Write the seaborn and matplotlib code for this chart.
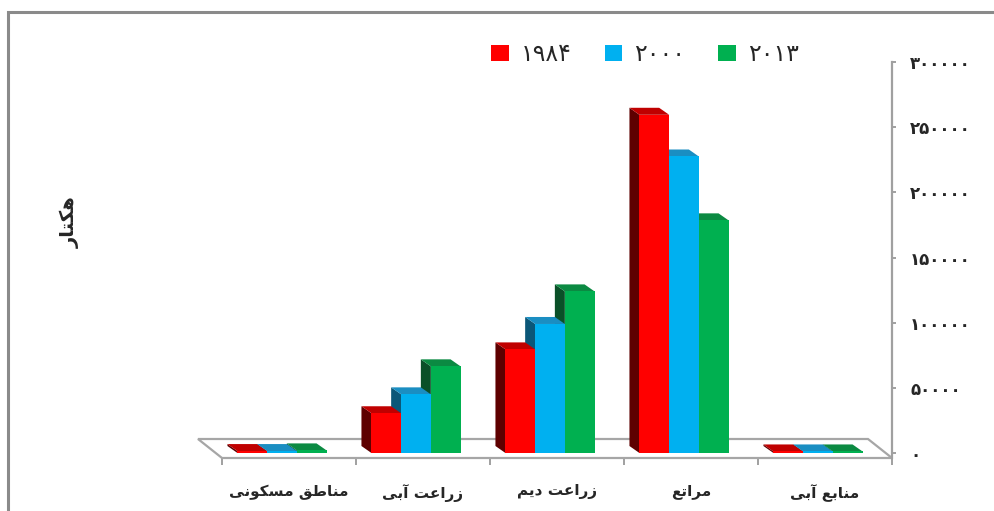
import matplotlib
matplotlib.use("Agg")
import matplotlib.pyplot as plt
import matplotlib.colors as mcolors
from matplotlib.patches import Polygon, Patch, Rectangle
import numpy as np
import pandas as pd
import seaborn as sns

# ---- data -------------------------------------------------------------
categories = ["مناطق مسکونی", "زراعت آبی", "زراعت دیم", "مراتع", "منابع آبی"]
years = ["1984", "2000", "2013"]
values_1984 = [1500, 30500, 79500, 259500, 1200]
values_2000 = [1500, 45000, 99000, 227500, 1200]
values_2013 = [2000, 66500, 124000, 178500, 1200]
y_ticks = [0, 50000, 100000, 150000, 200000, 250000, 300000]
y_label = "هکتار"

front_colors = {"1984": "#FF0000", "2000": "#00B0F0", "2013": "#00B050"}
side_colors = {"1984": "#5E0000", "2000": "#0B5778", "2013": "#0A5028"}
top_colors = {"1984": "#C00000", "2000": "#1A8EC2", "2013": "#0B8A42"}

# ---- minimal Persian shaping (presentation forms + visual order) -------
_FORMS = {  # isolated, final, initial, medial
    "ا": ("\uFE8D", "\uFE8E", None, None),
    "آ": ("\uFE81", "\uFE82", None, None),
    "ب": ("\uFE8F", "\uFE90", "\uFE91", "\uFE92"),
    "ت": ("\uFE95", "\uFE96", "\uFE97", "\uFE98"),
    "د": ("\uFEA9", "\uFEAA", None, None),
    "ر": ("\uFEAD", "\uFEAE", None, None),
    "ز": ("\uFEAF", "\uFEB0", None, None),
    "س": ("\uFEB1", "\uFEB2", "\uFEB3", "\uFEB4"),
    "ط": ("\uFEC1", "\uFEC2", "\uFEC3", "\uFEC4"),
    "ع": ("\uFEC9", "\uFECA", "\uFECB", "\uFECC"),
    "ق": ("\uFED5", "\uFED6", "\uFED7", "\uFED8"),
    "ک": ("\uFB8E", "\uFB8F", "\uFB90", "\uFB91"),
    "ل": ("\uFEDD", "\uFEDE", "\uFEDF", "\uFEE0"),
    "م": ("\uFEE1", "\uFEE2", "\uFEE3", "\uFEE4"),
    "ن": ("\uFEE5", "\uFEE6", "\uFEE7", "\uFEE8"),
    "ه": ("\uFEE9", "\uFEEA", "\uFEEB", "\uFEEC"),
    "و": ("\uFEED", "\uFEEE", None, None),
    "ی": ("\uFBFC", "\uFBFD", "\uFBFE", "\uFBFF"),
}


def shape(text):
    out = []
    for i, ch in enumerate(text):
        f = _FORMS.get(ch)
        if f is None:
            out.append(ch)
            continue
        prev = text[i - 1] if i > 0 else None
        nxt = text[i + 1] if i + 1 < len(text) else None
        join_prev = prev in _FORMS and _FORMS[prev][2] is not None
        join_next = nxt in _FORMS and f[2] is not None
        if join_prev and join_next:
            out.append(f[3])
        elif join_prev:
            out.append(f[1])
        elif join_next:
            out.append(f[2])
        else:
            out.append(f[0])
    return "".join(reversed(out))


def fa_digits(s):
    return str(s).translate(str.maketrans("0123456789", "۰۱۲۳۴۵۶۷۸۹"))


# ---- figure -----------------------------------------------------------
sns.set_theme(style="white")
plt.rcParams["font.family"] = ["DejaVu Sans"]

W, H = 995, 511
fig = plt.figure(figsize=(W / 100, H / 100), dpi=100)
fig.patch.set_facecolor("white")

# outer frame
fig.add_artist(Rectangle((8 / W, -0.05), 1.05, 1 - 12 / H + 0.05,
                         transform=fig.transFigure, fill=False,
                         edgecolor="#8A8A8A", linewidth=2.2, zorder=0))

ax_left, ax_right, ax_top, ax_bottom = 222, 892, 62, 458
ax = fig.add_axes([ax_left / W, (H - ax_bottom) / H,
                   (ax_right - ax_left) / W, (ax_bottom - ax_top) / H])
ax.patch.set_alpha(0)

df = pd.DataFrame({
    "category": categories * 3,
    "year": [years[0]] * 5 + [years[1]] * 5 + [years[2]] * 5,
    "value": values_1984 + values_2000 + values_2013,
})

sns.barplot(data=df, x="category", y="value", hue="year", order=categories,
            hue_order=years, palette=front_colors, saturation=1, width=0.665,
            linewidth=0, legend=False, ax=ax)

x0_lim = -0.4478
ax.set_xlim(x0_lim, x0_lim + 5)
ax.set_ylim(-3827, 300000)
ax.set_xlabel("")
ax.set_ylabel("")

# ---- pseudo 3-D faces for each bar --------------------------------------
fig.canvas.draw()
to_disp = ax.transData
to_data = ax.transData.inverted()


def back(pts, dx, dy):
    d = to_disp.transform(np.asarray(pts, dtype=float))
    d[:, 0] += dx
    d[:, 1] += dy
    return to_data.transform(d)


# floor slab
fx0, fx1 = ax.get_xlim()
fy = ax.get_ylim()[0]
front_edge = [(fx0, fy), (fx1, fy)]
back_edge = back(front_edge, -24, 19)
floor = Polygon([front_edge[0], front_edge[1], back_edge[1], back_edge[0]],
                closed=True, facecolor="white", edgecolor="#A6A6A6",
                linewidth=1.6, clip_on=False, zorder=1)
ax.add_patch(floor)

hex_to_year = {mcolors.to_hex(c).lower(): y for y, c in front_colors.items()}
DX, DY = -10, 7
for p in list(ax.patches):
    if p is floor:
        continue
    year = hex_to_year.get(mcolors.to_hex(p.get_facecolor()).lower())
    if year is None:
        continue
    x0 = p.get_x()
    x1 = x0 + p.get_width()
    h = p.get_y() + p.get_height()
    b = p.get_y()
    fl_b, fl_t = (x0, b), (x0, h)
    bk = back([fl_b, fl_t, (x1, h)], DX, DY)
    ax.add_patch(Polygon([fl_b, fl_t, bk[1], bk[0]], closed=True,
                         facecolor=side_colors[year], edgecolor="none",
                         zorder=2, clip_on=False))
    ax.add_patch(Polygon([fl_t, (x1, h), bk[2], bk[1]], closed=True,
                         facecolor=top_colors[year], edgecolor="none",
                         zorder=2.5, clip_on=False))
    p.set_zorder(3)

# ---- axes styling ----------------------------------------------------------
for s in ("top", "left", "bottom"):
    ax.spines[s].set_visible(False)
ax.spines["right"].set_visible(True)
ax.spines["right"].set_color("#A0A0A0")
ax.spines["right"].set_linewidth(1.6)

ax.yaxis.tick_right()
ax.set_yticks(y_ticks)
ax.set_yticklabels([fa_digits(v) for v in y_ticks], fontsize=12,
                   fontweight="bold")
ax.tick_params(axis="y", direction="out", length=3, width=1.4,
               color="#A0A0A0", pad=10, right=True, left=False)

bounds = [x0_lim + k for k in range(6)]
centers = [x0_lim + k + 0.5 for k in range(5)]
ax.set_xticks(bounds)
ax.set_xticklabels([""] * 6)
ax.set_xticks(centers, minor=True)
ax.set_xticklabels([shape(c) for c in categories], minor=True,
                   fontsize=11, fontweight="bold")
ax.tick_params(axis="x", which="major", direction="out", length=5,
               width=1.4, color="#A0A0A0", bottom=True)
ax.tick_params(axis="x", which="minor", length=0, pad=19, bottom=True)

fig.text(70 / W, 1 - 222 / H, shape(y_label), rotation=90, ha="center",
         va="center", fontsize=14, fontweight="bold")

handles = [Patch(facecolor=front_colors[y], edgecolor="none") for y in years]
fig.legend(handles, [fa_digits(y) for y in years], loc="center",
           bbox_to_anchor=(645 / W, 1 - 54 / H), ncol=3, frameon=False,
           fontsize=17, handlelength=0.75, handleheight=0.65,
           handletextpad=0.5, columnspacing=1.4)

fig.savefig("out.png", dpi=100)
